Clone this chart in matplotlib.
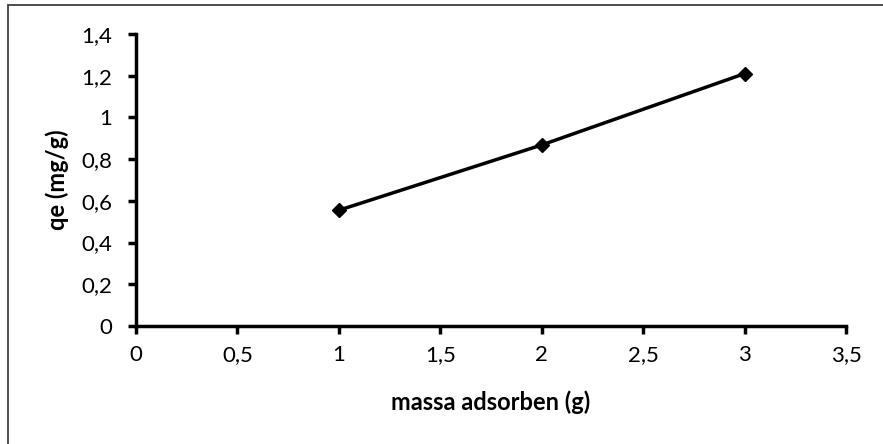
import matplotlib.pyplot as plt
from matplotlib.patches import Rectangle
from matplotlib.ticker import FuncFormatter

# data
massa = [1, 2, 3]
qe = [0.555, 0.868, 1.21]
xticks = [0, 0.5, 1, 1.5, 2, 2.5, 3, 3.5]
yticks = [0, 0.2, 0.4, 0.6, 0.8, 1.0, 1.2, 1.4]

plt.rcParams['font.family'] = ['Lato', 'DejaVu Sans']

fig = plt.figure(figsize=(8.83, 4.44), dpi=100)
fig.patches.append(Rectangle((8/883, -0.1), 1.0, 1 - 5/444 + 0.1,
                             transform=fig.transFigure, fill=False,
                             edgecolor='#404040', linewidth=1.3))

ax = fig.add_axes([136/883, 118/444, 710/883, 292/444])
ax.plot(massa, qe, color='black', linewidth=2.5, marker='D', markersize=7)

ax.set_xlim(0, 3.5)
ax.set_ylim(0, 1.4)
ax.set_xticks(xticks)
ax.set_yticks(yticks)

def comma(v, pos):
    s = ('%g' % round(v, 2))
    return s.replace('.', ',')

ax.xaxis.set_major_formatter(FuncFormatter(comma))
ax.yaxis.set_major_formatter(FuncFormatter(comma))

for side in ['top', 'right']:
    ax.spines[side].set_visible(False)
for side in ['left', 'bottom']:
    ax.spines[side].set_linewidth(2.5)
ax.tick_params(width=2.5, length=6, labelsize=16)
ax.tick_params(axis='x', pad=8)
ax.tick_params(axis='y', pad=11)

ax.set_xlabel('massa adsorben (g)', fontsize=17, fontweight='bold', labelpad=18)
ax.set_ylabel('qe (mg/g)', fontsize=17, fontweight='bold', labelpad=9)

fig.savefig('out.png', dpi=100)
